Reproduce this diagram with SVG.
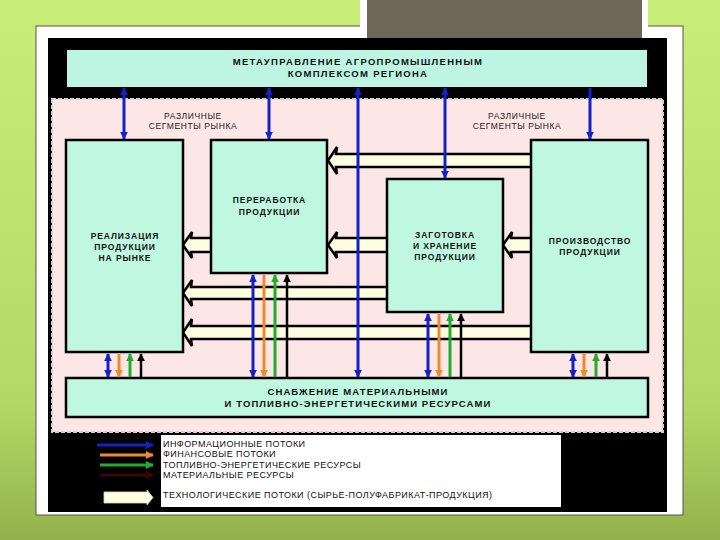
<svg xmlns="http://www.w3.org/2000/svg" width="720" height="540" viewBox="0 0 720 540">
<defs>
<linearGradient id="bg" x1="0" y1="0" x2="0" y2="1">
<stop offset="0" stop-color="#c8ee78"/>
<stop offset="0.75" stop-color="#b4d866"/>
<stop offset="1" stop-color="#93b24c"/>
</linearGradient>
<marker id="mb" viewBox="0 0 10 10" refX="9" refY="5" markerWidth="8" markerHeight="8" markerUnits="userSpaceOnUse" orient="auto-start-reverse"><path d="M0,0 L10,5 L0,10 z" fill="#1222c8"/></marker>
<marker id="mo" viewBox="0 0 10 10" refX="9" refY="5" markerWidth="8" markerHeight="8" markerUnits="userSpaceOnUse" orient="auto-start-reverse"><path d="M0,0 L10,5 L0,10 z" fill="#ef8a2c"/></marker>
<marker id="mg" viewBox="0 0 10 10" refX="9" refY="5" markerWidth="8" markerHeight="8" markerUnits="userSpaceOnUse" orient="auto-start-reverse"><path d="M0,0 L10,5 L0,10 z" fill="#20ad2a"/></marker>
<marker id="mk" viewBox="0 0 10 10" refX="9" refY="5" markerWidth="8" markerHeight="8" markerUnits="userSpaceOnUse" orient="auto-start-reverse"><path d="M0,0 L10,5 L0,10 z" fill="#000"/></marker>
<marker id="mr" viewBox="0 0 10 10" refX="9" refY="5" markerWidth="8" markerHeight="8" markerUnits="userSpaceOnUse" orient="auto-start-reverse"><path d="M0,0 L10,5 L0,10 z" fill="#3a0606"/></marker>
</defs>
<style>
.box{fill:#bff7e1;stroke:#000;stroke-width:2.5}
.band{fill:#fffde0;stroke:#000;stroke-width:2.5;stroke-linejoin:miter}
.bt{font-family:"Liberation Sans",Arial,sans-serif;font-weight:bold;font-size:8.5px;letter-spacing:0.9px;text-anchor:middle;fill:#111}
.ht{font-family:"Liberation Sans",Arial,sans-serif;font-weight:bold;font-size:9.5px;letter-spacing:1.3px;text-anchor:middle;fill:#111}
.st{font-family:"Liberation Sans",Arial,sans-serif;font-size:8.5px;letter-spacing:0.6px;text-anchor:middle;fill:#222}
.lt{font-family:"Liberation Sans",Arial,sans-serif;font-size:9px;letter-spacing:0.45px;fill:#111}
.b{stroke:#1222c8;stroke-width:3;fill:none}
.o{stroke:#ef8a2c;stroke-width:3;fill:none}
.g{stroke:#20ad2a;stroke-width:3;fill:none}
.k{stroke:#000;stroke-width:2.5;fill:none}
</style>
<rect x="0" y="0" width="720" height="540" fill="url(#bg)"/>
<rect x="36" y="26" width="647" height="489" fill="#fff" stroke="#555" stroke-width="1"/>
<rect x="360" y="0" width="288" height="38" fill="#fff"/>
<rect x="367" y="0" width="275" height="38" fill="#6e6658"/>
<rect x="48" y="38" width="619" height="474" fill="#000"/>
<rect x="52" y="99" width="611" height="333" fill="#fde6e6" stroke="#d8d0d0" stroke-width="2" stroke-dasharray="4,2"/>

<g id="header">
<rect x="67" y="50" width="580" height="37" fill="#bdf5e2"/>
<text class="ht" x="358" y="65">МЕТАУПРАВЛЕНИЕ АГРОПРОМЫШЛЕННЫМ</text>
<text class="ht" x="358" y="77">КОМПЛЕКСОМ РЕГИОНА</text>
</g>

<g id="segments">
<text class="st" x="193" y="119">РАЗЛИЧНЫЕ</text>
<text class="st" x="193" y="129">СЕГМЕНТЫ РЫНКА</text>
<text class="st" x="517" y="119">РАЗЛИЧНЫЕ</text>
<text class="st" x="517" y="129">СЕГМЕНТЫ РЫНКА</text>
</g>

<g id="tech-flows">
<polygon class="band" points="328,160.5 337,147 336,154 534,154 534,167 336,167 337,174"/>
<polygon class="band" points="503,245 512,232 511,238 534,238 534,252 511,252 512,258"/>
<polygon class="band" points="328,245 337,232 336,238 390,238 390,252 336,252 337,258"/>
<polygon class="band" points="183,245 192,232 191,238 214,238 214,252 191,252 192,258"/>
<polygon class="band" points="183,293 192,280 191,287 390,287 390,299 191,299 192,306"/>
<polygon class="band" points="183,332.5 192,319 191,326 534,326 534,339 191,339 192,346"/>
</g>

<g id="realizacia">
<rect class="box" x="66" y="140" width="117" height="212"/>
<text class="bt" x="125" y="239">РЕАЛИЗАЦИЯ</text>
<text class="bt" x="125" y="250">ПРОДУКЦИИ</text>
<text class="bt" x="125" y="261">НА РЫНКЕ</text>
</g>
<g id="pererabotka">
<rect class="box" x="211" y="140" width="116" height="133"/>
<text class="bt" x="269.5" y="203">ПЕРЕРАБОТКА</text>
<text class="bt" x="269.5" y="215">ПРОДУКЦИИ</text>
</g>
<g id="zagotovka">
<rect class="box" x="387" y="179" width="116" height="133"/>
<text class="bt" x="445" y="238">ЗАГОТОВКА</text>
<text class="bt" x="445" y="249">И ХРАНЕНИЕ</text>
<text class="bt" x="445" y="260">ПРОДУКЦИИ</text>
</g>
<g id="proizvodstvo">
<rect class="box" x="531" y="140" width="117" height="212"/>
<text class="bt" x="590" y="244">ПРОИЗВОДСТВО</text>
<text class="bt" x="590" y="255">ПРОДУКЦИИ</text>
</g>
<g id="snabzhenie">
<rect class="box" x="66" y="378" width="582" height="39"/>
<text class="ht" x="358" y="395" style="font-size:9.5px;letter-spacing:1.1px">СНАБЖЕНИЕ МАТЕРИАЛЬНЫМИ</text>
<text class="ht" x="358" y="407" style="font-size:9.5px;letter-spacing:1.1px">И ТОПЛИВНО-ЭНЕРГЕТИЧЕСКИМИ РЕСУРСАМИ</text>
</g>

<g id="connectors">
<line class="b" x1="124" y1="88" x2="124" y2="139" marker-start="url(#mb)" marker-end="url(#mb)"/>
<line class="b" x1="269" y1="88" x2="269" y2="139" marker-start="url(#mb)" marker-end="url(#mb)"/>
<line class="b" x1="358" y1="88" x2="358" y2="377" marker-start="url(#mb)" marker-end="url(#mb)"/>
<line class="b" x1="445" y1="88" x2="445" y2="178" marker-start="url(#mb)" marker-end="url(#mb)"/>
<line class="b" x1="590" y1="88" x2="590" y2="139" marker-end="url(#mb)"/>

<line class="b" x1="108" y1="354" x2="108" y2="377" marker-start="url(#mb)" marker-end="url(#mb)"/>
<line class="o" x1="119" y1="354" x2="119" y2="377" marker-end="url(#mo)"/>
<line class="g" x1="130" y1="377" x2="130" y2="354" marker-end="url(#mg)"/>
<line class="k" x1="141" y1="377" x2="141" y2="354" marker-end="url(#mk)"/>

<line class="b" x1="253" y1="275" x2="253" y2="377" marker-start="url(#mb)" marker-end="url(#mb)"/>
<line class="o" x1="264" y1="275" x2="264" y2="377" marker-end="url(#mo)"/>
<line class="g" x1="275" y1="377" x2="275" y2="275" marker-end="url(#mg)"/>
<line class="k" x1="287" y1="377" x2="287" y2="275" marker-end="url(#mk)"/>

<line class="b" x1="428" y1="314" x2="428" y2="377" marker-start="url(#mb)" marker-end="url(#mb)"/>
<line class="o" x1="439" y1="314" x2="439" y2="377" marker-end="url(#mo)"/>
<line class="g" x1="450" y1="377" x2="450" y2="314" marker-end="url(#mg)"/>
<line class="k" x1="461" y1="377" x2="461" y2="314" marker-end="url(#mk)"/>

<line class="b" x1="573" y1="354" x2="573" y2="377" marker-start="url(#mb)" marker-end="url(#mb)"/>
<line class="o" x1="584" y1="354" x2="584" y2="377" marker-end="url(#mo)"/>
<line class="g" x1="596" y1="377" x2="596" y2="354" marker-end="url(#mg)"/>
<line class="k" x1="607" y1="377" x2="607" y2="354" marker-end="url(#mk)"/>
</g>

<g id="legend">
<rect x="161" y="435" width="400" height="72" fill="#fff"/>
<line class="b" x1="97" y1="445" x2="153" y2="445" marker-end="url(#mb)"/>
<line class="o" x1="100" y1="455" x2="153" y2="455" marker-end="url(#mo)"/>
<line class="g" x1="100" y1="465" x2="153" y2="465" marker-end="url(#mg)"/>
<line x1="100" y1="475" x2="153" y2="475" stroke="#3a0606" stroke-width="3" marker-end="url(#mr)"/>
<polygon points="104,492 147,492 147,490 153,497.5 147,505 147,503 104,503" fill="#fffde0" stroke="#d8d8c0" stroke-width="0.8"/>
<text class="lt" x="163" y="447">ИНФОРМАЦИОННЫЕ ПОТОКИ</text>
<text class="lt" x="163" y="457">ФИНАНСОВЫЕ ПОТОКИ</text>
<text class="lt" x="163" y="467.5">ТОПЛИВНО-ЭНЕРГЕТИЧЕСКИЕ РЕСУРСЫ</text>
<text class="lt" x="163" y="478">МАТЕРИАЛЬНЫЕ РЕСУРСЫ</text>
<text class="lt" x="163" y="498">ТЕХНОЛОГИЧЕСКИЕ ПОТОКИ (СЫРЬЕ-ПОЛУФАБРИКАТ-ПРОДУКЦИЯ)</text>
</g>
</svg>
